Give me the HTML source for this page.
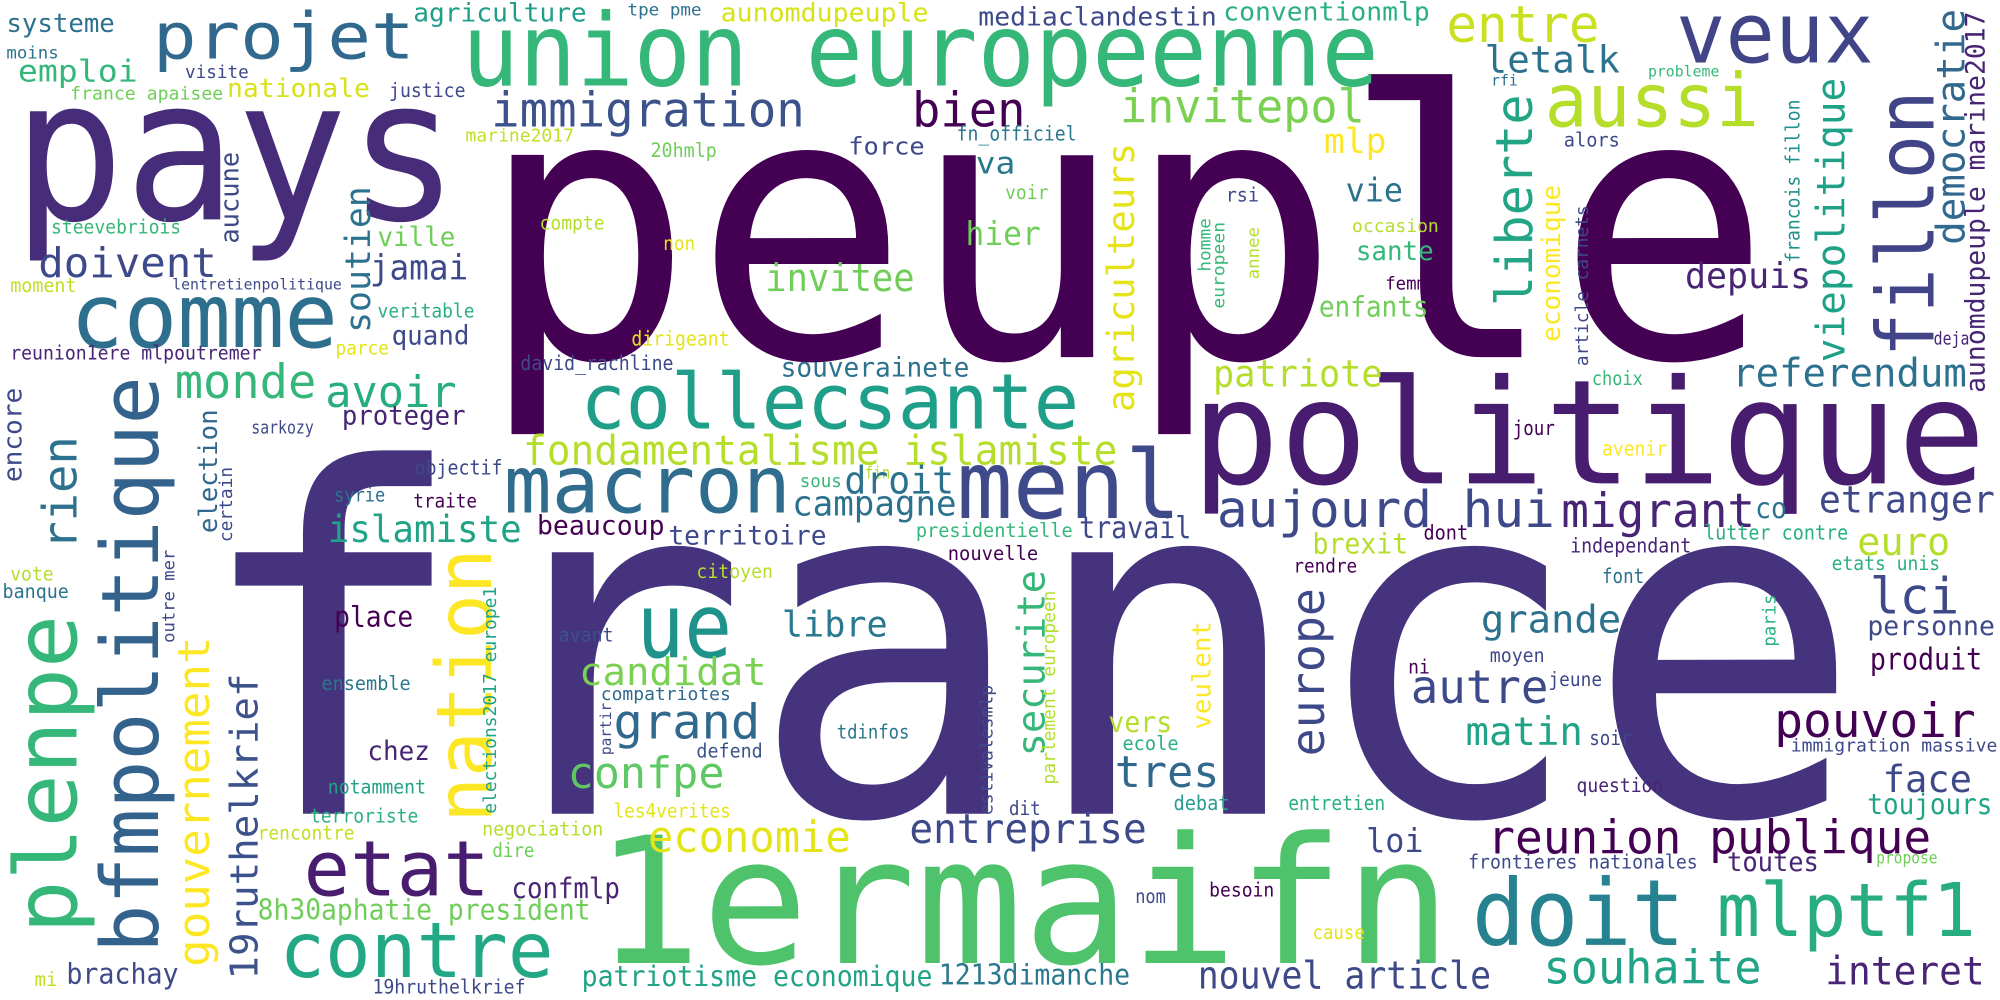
<!DOCTYPE html>
<html><head><meta charset="utf-8"><style>
html,body{margin:0;padding:0;background:#fff;overflow:hidden;}
svg{display:block;}
text{font-family:"DejaVu Sans Mono","Liberation Mono",monospace;}
</style></head><body>
<svg width="2000" height="1000" viewBox="0 0 1568 784" xmlns="http://www.w3.org/2000/svg">
<rect width="1568" height="784" fill="#fff"/>
<text x="150" y="638" font-size="375" textLength="1311" lengthAdjust="spacingAndGlyphs" fill="#46337e">france</text>
<text x="375" y="280" font-size="290" textLength="1014" lengthAdjust="spacingAndGlyphs" fill="#440154">peuple</text>
<text x="10" y="172" font-size="155" textLength="350" lengthAdjust="spacingAndGlyphs" fill="#472c7a">pays</text>
<text x="934" y="379" font-size="114" textLength="623" lengthAdjust="spacingAndGlyphs" fill="#481c6e">politique</text>
<text x="362" y="67" font-size="79" textLength="719" lengthAdjust="spacingAndGlyphs" fill="#35b779">union europeenne</text>
<text x="1314" y="49" font-size="66" textLength="155" lengthAdjust="spacingAndGlyphs" fill="#414487">veux</text>
<text x="120" y="46" font-size="50" textLength="205" lengthAdjust="spacingAndGlyphs" fill="#31688e">projet</text>
<text x="1211" y="99" font-size="58" textLength="168" lengthAdjust="spacingAndGlyphs" fill="#b5de2b">aussi</text>
<text x="55" y="272" font-size="70" textLength="210" lengthAdjust="spacingAndGlyphs" fill="#2e6f8e">comme</text>
<text x="455" y="336" font-size="60" textLength="391" lengthAdjust="spacingAndGlyphs" fill="#1f9e89">collecsante</text>
<text x="395" y="402" font-size="62" textLength="225" lengthAdjust="spacingAndGlyphs" fill="#2f6c8e">macron</text>
<text x="750" y="406" font-size="74" textLength="176" lengthAdjust="spacingAndGlyphs" fill="#3e4a89">menl</text>
<text x="499" y="515" font-size="70" textLength="75" lengthAdjust="spacingAndGlyphs" fill="#20928c">ue</text>
<text x="238" y="702" font-size="60" textLength="146" lengthAdjust="spacingAndGlyphs" fill="#481c6e">etat</text>
<text x="219" y="766" font-size="60" textLength="215" lengthAdjust="spacingAndGlyphs" fill="#22a884">contre</text>
<text x="466" y="755" font-size="138" textLength="672" lengthAdjust="spacingAndGlyphs" fill="#4ec36b">1ermaifn</text>
<text x="1154" y="741" font-size="72" textLength="167" lengthAdjust="spacingAndGlyphs" fill="#26828e">doit</text>
<text x="1346" y="734" font-size="58" textLength="203" lengthAdjust="spacingAndGlyphs" fill="#27ad81">mlptf1</text>
<text x="954" y="413" font-size="40" textLength="265" lengthAdjust="spacingAndGlyphs" fill="#3e4989">aujourd hui</text>
<text x="1224" y="413" font-size="37" textLength="152" lengthAdjust="spacingAndGlyphs" fill="#482475">migrant</text>
<text x="1376" y="406" font-size="22" textLength="25" lengthAdjust="spacingAndGlyphs" fill="#2c728e">co</text>
<text x="1426" y="402" font-size="29" textLength="138" lengthAdjust="spacingAndGlyphs" fill="#3e4989">etranger</text>
<text x="385" y="99" font-size="38" textLength="246" lengthAdjust="spacingAndGlyphs" fill="#3b528b">immigration</text>
<text x="715" y="99" font-size="38" textLength="89" lengthAdjust="spacingAndGlyphs" fill="#440154">bien</text>
<text x="878" y="96" font-size="36" textLength="192" lengthAdjust="spacingAndGlyphs" fill="#7ad151">invitepol</text>
<text x="1134" y="33" font-size="40" textLength="120" lengthAdjust="spacingAndGlyphs" fill="#c8e020">entre</text>
<text x="1164" y="57" font-size="29" textLength="106" lengthAdjust="spacingAndGlyphs" fill="#2c728e">letalk</text>
<text x="30" y="217" font-size="32" textLength="140" lengthAdjust="spacingAndGlyphs" fill="#3e4989">doivent</text>
<text x="14" y="64" font-size="24" textLength="94" lengthAdjust="spacingAndGlyphs" fill="#35b779">emploi</text>
<text x="324" y="17" font-size="20" textLength="136" lengthAdjust="spacingAndGlyphs" fill="#1f9e89">agriculture</text>
<text x="5" y="25" font-size="20" textLength="85" lengthAdjust="spacingAndGlyphs" fill="#2c728e">systeme</text>
<text x="5" y="46" font-size="13" textLength="41" lengthAdjust="spacingAndGlyphs" fill="#2c728e">moins</text>
<text x="55" y="78" font-size="14" textLength="120" lengthAdjust="spacingAndGlyphs" fill="#6ece58">france apaisee</text>
<text x="145" y="61" font-size="14" textLength="50" lengthAdjust="spacingAndGlyphs" fill="#3e4989">visite</text>
<text x="178" y="76" font-size="20" textLength="112" lengthAdjust="spacingAndGlyphs" fill="#d8e219">nationale</text>
<text x="305" y="76" font-size="15" textLength="60" lengthAdjust="spacingAndGlyphs" fill="#3e4989">justice</text>
<text x="565" y="17" font-size="20" textLength="163" lengthAdjust="spacingAndGlyphs" fill="#d8e219">aunomdupeuple</text>
<text x="492" y="12" font-size="13" textLength="58" lengthAdjust="spacingAndGlyphs" fill="#2c728e">tpe pme</text>
<text x="767" y="20" font-size="20" textLength="187" lengthAdjust="spacingAndGlyphs" fill="#3e4989">mediaclandestin</text>
<text x="959" y="16" font-size="20" textLength="162" lengthAdjust="spacingAndGlyphs" fill="#2ab07f">conventionmlp</text>
<text x="365" y="111" font-size="14" textLength="85" lengthAdjust="spacingAndGlyphs" fill="#c2df23">marine2017</text>
<text x="750" y="110" font-size="16" textLength="94" lengthAdjust="spacingAndGlyphs" fill="#2a788e">fn_officiel</text>
<text x="665" y="121" font-size="19" textLength="60" lengthAdjust="spacingAndGlyphs" fill="#3e4989">force</text>
<text x="1038" y="120" font-size="27" textLength="49" lengthAdjust="spacingAndGlyphs" fill="#fde725">mlp</text>
<text x="1169" y="67" font-size="12" textLength="21" lengthAdjust="spacingAndGlyphs" fill="#2c728e">rfi</text>
<text x="510" y="123" font-size="15" textLength="52" lengthAdjust="spacingAndGlyphs" fill="#6ece58">20hmlp</text>
<text x="765" y="136" font-size="24" textLength="31" lengthAdjust="spacingAndGlyphs" fill="#2a788e">va</text>
<text x="1055" y="158" font-size="26" textLength="45" lengthAdjust="spacingAndGlyphs" fill="#2c728e">vie</text>
<text x="757" y="192" font-size="26" textLength="59" lengthAdjust="spacingAndGlyphs" fill="#6ece58">hier</text>
<text x="1321" y="226" font-size="28" textLength="99" lengthAdjust="spacingAndGlyphs" fill="#482475">depuis</text>
<text x="1063" y="204" font-size="21" textLength="61" lengthAdjust="spacingAndGlyphs" fill="#35b779">sante</text>
<text x="1034" y="248" font-size="22" textLength="86" lengthAdjust="spacingAndGlyphs" fill="#6ece58">enfants</text>
<text x="1060" y="182" font-size="14" textLength="68" lengthAdjust="spacingAndGlyphs" fill="#b5de2b">occasion</text>
<text x="961" y="158" font-size="15" textLength="26" lengthAdjust="spacingAndGlyphs" fill="#3e4989">rsi</text>
<text x="788" y="156" font-size="15" textLength="34" lengthAdjust="spacingAndGlyphs" fill="#6ece58">voir</text>
<text x="1086" y="227" font-size="14" textLength="41" lengthAdjust="spacingAndGlyphs" fill="#440154">femme</text>
<text x="1226" y="115" font-size="15" textLength="44" lengthAdjust="spacingAndGlyphs" fill="#3e4989">alors</text>
<text x="1292" y="60" font-size="12" textLength="56" lengthAdjust="spacingAndGlyphs" fill="#35b779">probleme</text>
<text x="1516" y="270" font-size="14" textLength="28" lengthAdjust="spacingAndGlyphs" fill="#482475">deja</text>
<text x="1358" y="303" font-size="31" textLength="184" lengthAdjust="spacingAndGlyphs" fill="#2c728e">referendum</text>
<text x="951" y="303" font-size="29" textLength="133" lengthAdjust="spacingAndGlyphs" fill="#b5de2b">patriote</text>
<text x="1248" y="302" font-size="15" textLength="40" lengthAdjust="spacingAndGlyphs" fill="#35b779">choix</text>
<text x="1186" y="341" font-size="16" textLength="33" lengthAdjust="spacingAndGlyphs" fill="#440154">jour</text>
<text x="1256" y="357" font-size="16" textLength="51" lengthAdjust="spacingAndGlyphs" fill="#fde725">avenir</text>
<text x="40" y="183" font-size="15" textLength="102" lengthAdjust="spacingAndGlyphs" fill="#35b779">steevebriois</text>
<text x="290" y="219" font-size="27" textLength="77" lengthAdjust="spacingAndGlyphs" fill="#3e4989">jamai</text>
<text x="296" y="193" font-size="21" textLength="61" lengthAdjust="spacingAndGlyphs" fill="#6ece58">ville</text>
<text x="307" y="270" font-size="21" textLength="61" lengthAdjust="spacingAndGlyphs" fill="#3e4989">quand</text>
<text x="8" y="229" font-size="15" textLength="52" lengthAdjust="spacingAndGlyphs" fill="#c2df23">moment</text>
<text x="135" y="227" font-size="12" textLength="133" lengthAdjust="spacingAndGlyphs" fill="#3e4989">lentretienpolitique</text>
<text x="296" y="249" font-size="15" textLength="76" lengthAdjust="spacingAndGlyphs" fill="#2ab07f">veritable</text>
<text x="263" y="278" font-size="15" textLength="42" lengthAdjust="spacingAndGlyphs" fill="#e5e419">parce</text>
<text x="8" y="282" font-size="15" textLength="197" lengthAdjust="spacingAndGlyphs" fill="#482475">reunion1ere mlpoutremer</text>
<text x="423" y="180" font-size="15" textLength="51" lengthAdjust="spacingAndGlyphs" fill="#b5de2b">compte</text>
<text x="520" y="196" font-size="15" textLength="25" lengthAdjust="spacingAndGlyphs" fill="#e5e419">non</text>
<text x="600" y="228" font-size="30" textLength="117" lengthAdjust="spacingAndGlyphs" fill="#6ece58">invitee</text>
<text x="495" y="271" font-size="16" textLength="77" lengthAdjust="spacingAndGlyphs" fill="#e5e419">dirigeant</text>
<text x="408" y="290" font-size="16" textLength="120" lengthAdjust="spacingAndGlyphs" fill="#3e4989">david_rachline</text>
<text x="612" y="295" font-size="21" textLength="148" lengthAdjust="spacingAndGlyphs" fill="#2c728e">souverainete</text>
<text x="137" y="312" font-size="37" textLength="111" lengthAdjust="spacingAndGlyphs" fill="#35b779">monde</text>
<text x="255" y="319" font-size="34" textLength="103" lengthAdjust="spacingAndGlyphs" fill="#27ad81">avoir</text>
<text x="268" y="333" font-size="21" textLength="97" lengthAdjust="spacingAndGlyphs" fill="#482475">proteger</text>
<text x="410" y="364" font-size="32" textLength="466" lengthAdjust="spacingAndGlyphs" fill="#b5de2b">fondamentalisme islamiste</text>
<text x="197" y="340" font-size="14" textLength="49" lengthAdjust="spacingAndGlyphs" fill="#3e4989">sarkozy</text>
<text x="325" y="372" font-size="16" textLength="69" lengthAdjust="spacingAndGlyphs" fill="#3e4989">objectif</text>
<text x="262" y="393" font-size="15" textLength="40" lengthAdjust="spacingAndGlyphs" fill="#2c728e">syrie</text>
<text x="678" y="375" font-size="13" textLength="20" lengthAdjust="spacingAndGlyphs" fill="#b5de2b">fin</text>
<text x="627" y="382" font-size="14" textLength="33" lengthAdjust="spacingAndGlyphs" fill="#35b779">sous</text>
<text x="662" y="387" font-size="30" textLength="86" lengthAdjust="spacingAndGlyphs" fill="#2c728e">droit</text>
<text x="257" y="425" font-size="29" textLength="152" lengthAdjust="spacingAndGlyphs" fill="#20a386">islamiste</text>
<text x="421" y="419" font-size="21" textLength="100" lengthAdjust="spacingAndGlyphs" fill="#440154">beaucoup</text>
<text x="524" y="427" font-size="21" textLength="124" lengthAdjust="spacingAndGlyphs" fill="#3e4989">territoire</text>
<text x="621" y="404" font-size="27" textLength="129" lengthAdjust="spacingAndGlyphs" fill="#2c728e">campagne</text>
<text x="324" y="398" font-size="15" textLength="50" lengthAdjust="spacingAndGlyphs" fill="#440154">traite</text>
<text x="718" y="421" font-size="15" textLength="123" lengthAdjust="spacingAndGlyphs" fill="#35b779">presidentielle</text>
<text x="743" y="439" font-size="15" textLength="71" lengthAdjust="spacingAndGlyphs" fill="#440154">nouvelle</text>
<text x="846" y="422" font-size="24" textLength="88" lengthAdjust="spacingAndGlyphs" fill="#3e4989">travail</text>
<text x="8" y="455" font-size="15" textLength="34" lengthAdjust="spacingAndGlyphs" fill="#b5de2b">vote</text>
<text x="2" y="469" font-size="15" textLength="52" lengthAdjust="spacingAndGlyphs" fill="#2c728e">banque</text>
<text x="546" y="453" font-size="15" textLength="60" lengthAdjust="spacingAndGlyphs" fill="#b5de2b">citoyen</text>
<text x="262" y="491" font-size="22" textLength="62" lengthAdjust="spacingAndGlyphs" fill="#440154">place</text>
<text x="613" y="499" font-size="28" textLength="83" lengthAdjust="spacingAndGlyphs" fill="#2a788e">libre</text>
<text x="438" y="503" font-size="15" textLength="43" lengthAdjust="spacingAndGlyphs" fill="#3b528b">avant</text>
<text x="454" y="537" font-size="30" textLength="147" lengthAdjust="spacingAndGlyphs" fill="#7ad151">candidat</text>
<text x="252" y="541" font-size="15" textLength="70" lengthAdjust="spacingAndGlyphs" fill="#2a788e">ensemble</text>
<text x="471" y="549" font-size="14" textLength="102" lengthAdjust="spacingAndGlyphs" fill="#31688e">compatriotes</text>
<text x="481" y="579" font-size="38" textLength="115" lengthAdjust="spacingAndGlyphs" fill="#31688e">grand</text>
<text x="656" y="579" font-size="15" textLength="57" lengthAdjust="spacingAndGlyphs" fill="#2a788e">tdinfos</text>
<text x="546" y="594" font-size="15" textLength="52" lengthAdjust="spacingAndGlyphs" fill="#3b528b">defend</text>
<text x="288" y="596" font-size="21" textLength="49" lengthAdjust="spacingAndGlyphs" fill="#482475">chez</text>
<text x="445" y="618" font-size="34" textLength="123" lengthAdjust="spacingAndGlyphs" fill="#5ec962">confpe</text>
<text x="257" y="622" font-size="15" textLength="77" lengthAdjust="spacingAndGlyphs" fill="#20a386">notamment</text>
<text x="243" y="645" font-size="15" textLength="85" lengthAdjust="spacingAndGlyphs" fill="#2ab07f">terroriste</text>
<text x="481" y="641" font-size="15" textLength="92" lengthAdjust="spacingAndGlyphs" fill="#e5e419">les4verites</text>
<text x="202" y="658" font-size="15" textLength="76" lengthAdjust="spacingAndGlyphs" fill="#c2df23">rencontre</text>
<text x="378" y="655" font-size="15" textLength="95" lengthAdjust="spacingAndGlyphs" fill="#b5de2b">negociation</text>
<text x="386" y="672" font-size="15" textLength="33" lengthAdjust="spacingAndGlyphs" fill="#6ece58">dire</text>
<text x="508" y="668" font-size="34" textLength="159" lengthAdjust="spacingAndGlyphs" fill="#e5e419">economie</text>
<text x="713" y="661" font-size="32" textLength="186" lengthAdjust="spacingAndGlyphs" fill="#3e4989">entreprise</text>
<text x="401" y="704" font-size="22" textLength="85" lengthAdjust="spacingAndGlyphs" fill="#482475">confmlp</text>
<text x="202" y="721" font-size="22" textLength="261" lengthAdjust="spacingAndGlyphs" fill="#6ece58">8h30aphatie president</text>
<text x="456" y="773" font-size="22" textLength="275" lengthAdjust="spacingAndGlyphs" fill="#20a386">patriotisme economique</text>
<text x="736" y="772" font-size="22" textLength="150" lengthAdjust="spacingAndGlyphs" fill="#2a788e">1213dimanche</text>
<text x="52" y="771" font-size="22" textLength="88" lengthAdjust="spacingAndGlyphs" fill="#3e4989">brachay</text>
<text x="27" y="773" font-size="15" textLength="18" lengthAdjust="spacingAndGlyphs" fill="#c2df23">mi</text>
<text x="292" y="779" font-size="15" textLength="120" lengthAdjust="spacingAndGlyphs" fill="#3e4989">19hruthelkrief</text>
<text x="1116" y="423" font-size="16" textLength="35" lengthAdjust="spacingAndGlyphs" fill="#440154">dont</text>
<text x="1029" y="434" font-size="22" textLength="75" lengthAdjust="spacingAndGlyphs" fill="#b5de2b">brexit</text>
<text x="1336" y="423" font-size="16" textLength="113" lengthAdjust="spacingAndGlyphs" fill="#2ab07f">lutter contre</text>
<text x="1231" y="433" font-size="16" textLength="95" lengthAdjust="spacingAndGlyphs" fill="#482475">independant</text>
<text x="1456" y="435" font-size="30" textLength="73" lengthAdjust="spacingAndGlyphs" fill="#b5de2b">euro</text>
<text x="1014" y="449" font-size="15" textLength="50" lengthAdjust="spacingAndGlyphs" fill="#440154">rendre</text>
<text x="1436" y="447" font-size="15" textLength="85" lengthAdjust="spacingAndGlyphs" fill="#2ab07f">etats unis</text>
<text x="1256" y="457" font-size="16" textLength="33" lengthAdjust="spacingAndGlyphs" fill="#2c728e">font</text>
<text x="1161" y="496" font-size="30" textLength="110" lengthAdjust="spacingAndGlyphs" fill="#2c728e">grande</text>
<text x="1466" y="481" font-size="39" textLength="70" lengthAdjust="spacingAndGlyphs" fill="#3e4989">lci</text>
<text x="1464" y="498" font-size="21" textLength="100" lengthAdjust="spacingAndGlyphs" fill="#3e4989">personne</text>
<text x="1168" y="519" font-size="15" textLength="43" lengthAdjust="spacingAndGlyphs" fill="#3e4989">moyen</text>
<text x="1466" y="525" font-size="24" textLength="88" lengthAdjust="spacingAndGlyphs" fill="#440154">produit</text>
<text x="1104" y="528" font-size="15" textLength="17" lengthAdjust="spacingAndGlyphs" fill="#440154">ni</text>
<text x="1106" y="551" font-size="36" textLength="108" lengthAdjust="spacingAndGlyphs" fill="#3e4989">autre</text>
<text x="1214" y="538" font-size="15" textLength="42" lengthAdjust="spacingAndGlyphs" fill="#3e4989">jeune</text>
<text x="869" y="574" font-size="22" textLength="50" lengthAdjust="spacingAndGlyphs" fill="#b5de2b">vers</text>
<text x="1391" y="578" font-size="37" textLength="158" lengthAdjust="spacingAndGlyphs" fill="#440154">pouvoir</text>
<text x="1149" y="584" font-size="31" textLength="92" lengthAdjust="spacingAndGlyphs" fill="#20a386">matin</text>
<text x="1246" y="584" font-size="16" textLength="33" lengthAdjust="spacingAndGlyphs" fill="#3e4989">soir</text>
<text x="1404" y="589" font-size="14" textLength="162" lengthAdjust="spacingAndGlyphs" fill="#3e4989">immigration massive</text>
<text x="880" y="588" font-size="15" textLength="44" lengthAdjust="spacingAndGlyphs" fill="#2ab07f">ecole</text>
<text x="874" y="617" font-size="34" textLength="82" lengthAdjust="spacingAndGlyphs" fill="#31688e">tres</text>
<text x="1476" y="621" font-size="29" textLength="70" lengthAdjust="spacingAndGlyphs" fill="#3e4989">face</text>
<text x="1236" y="621" font-size="15" textLength="68" lengthAdjust="spacingAndGlyphs" fill="#482475">question</text>
<text x="791" y="639" font-size="15" textLength="25" lengthAdjust="spacingAndGlyphs" fill="#3e4989">dit</text>
<text x="920" y="635" font-size="16" textLength="44" lengthAdjust="spacingAndGlyphs" fill="#2a9d8f">debat</text>
<text x="1010" y="635" font-size="16" textLength="76" lengthAdjust="spacingAndGlyphs" fill="#2ab07f">entretien</text>
<text x="1464" y="638" font-size="22" textLength="98" lengthAdjust="spacingAndGlyphs" fill="#20a386">toujours</text>
<text x="1071" y="668" font-size="26" textLength="45" lengthAdjust="spacingAndGlyphs" fill="#3e4989">loi</text>
<text x="1166" y="669" font-size="36" textLength="348" lengthAdjust="spacingAndGlyphs" fill="#440154">reunion publique</text>
<text x="1151" y="681" font-size="15" textLength="180" lengthAdjust="spacingAndGlyphs" fill="#3e4989">frontieres nationales</text>
<text x="1354" y="683" font-size="21" textLength="72" lengthAdjust="spacingAndGlyphs" fill="#482475">toutes</text>
<text x="1471" y="677" font-size="13" textLength="48" lengthAdjust="spacingAndGlyphs" fill="#6ece58">propose</text>
<text x="948" y="703" font-size="15" textLength="51" lengthAdjust="spacingAndGlyphs" fill="#440154">besoin</text>
<text x="890" y="708" font-size="15" textLength="24" lengthAdjust="spacingAndGlyphs" fill="#3e4989">nom</text>
<text x="1029" y="736" font-size="15" textLength="41" lengthAdjust="spacingAndGlyphs" fill="#e5e419">cause</text>
<text x="1210" y="771" font-size="36" textLength="171" lengthAdjust="spacingAndGlyphs" fill="#20a386">souhaite</text>
<text x="1431" y="772" font-size="31" textLength="125" lengthAdjust="spacingAndGlyphs" fill="#482475">interet</text>
<text x="939" y="775" font-size="30" textLength="230" lengthAdjust="spacingAndGlyphs" fill="#3e4989">nouvel article</text>
<!-- vertical words (baseline x, bottom y) -->
<text transform="translate(1516,280) rotate(-90)" font-size="62" textLength="209" lengthAdjust="spacingAndGlyphs" fill="#414487">fillon</text>
<text transform="translate(1540,192) rotate(-90)" font-size="31" textLength="185" lengthAdjust="spacingAndGlyphs" fill="#31688e">democratie</text>
<text transform="translate(1556,308) rotate(-90)" font-size="21" textLength="299" lengthAdjust="spacingAndGlyphs" fill="#482475">aunomdupeuple marine2017</text>
<text transform="translate(1446,284) rotate(-90)" font-size="31" textLength="223" lengthAdjust="spacingAndGlyphs" fill="#1fa188">viepolitique</text>
<text transform="translate(1411,206) rotate(-90)" font-size="15" textLength="128" lengthAdjust="spacingAndGlyphs" fill="#21918c">francois fillon</text>
<text transform="translate(1245,287) rotate(-90)" font-size="14" textLength="126" lengthAdjust="spacingAndGlyphs" fill="#3e4989">article carnets</text>
<text transform="translate(1223,268) rotate(-90)" font-size="20" textLength="123" lengthAdjust="spacingAndGlyphs" fill="#fde725">economique</text>
<text transform="translate(1201,240) rotate(-90)" font-size="40" textLength="166" lengthAdjust="spacingAndGlyphs" fill="#21a585">liberte</text>
<text transform="translate(889,323) rotate(-90)" font-size="29" textLength="211" lengthAdjust="spacingAndGlyphs" fill="#e5e419">agriculteurs</text>
<text transform="translate(949,213) rotate(-90)" font-size="13" textLength="42" lengthAdjust="spacingAndGlyphs" fill="#35b779">homme</text>
<text transform="translate(960,242) rotate(-90)" font-size="13" textLength="68" lengthAdjust="spacingAndGlyphs" fill="#35b779">europeen</text>
<text transform="translate(987,219) rotate(-90)" font-size="13" textLength="41" lengthAdjust="spacingAndGlyphs" fill="#b5de2b">annee</text>
<text transform="translate(290,261) rotate(-90)" font-size="27" textLength="115" lengthAdjust="spacingAndGlyphs" fill="#2c728e">soutien</text>
<text transform="translate(187,191) rotate(-90)" font-size="20" textLength="72" lengthAdjust="spacingAndGlyphs" fill="#3e4989">aucune</text>
<text transform="translate(17,378) rotate(-90)" font-size="20" textLength="74" lengthAdjust="spacingAndGlyphs" fill="#3e4989">encore</text>
<text transform="translate(60,431) rotate(-90)" font-size="37" textLength="89" lengthAdjust="spacingAndGlyphs" fill="#2c728e">rien</text>
<text transform="translate(170,418) rotate(-90)" font-size="20" textLength="97" lengthAdjust="spacingAndGlyphs" fill="#31688e">election</text>
<text transform="translate(182,425) rotate(-90)" font-size="14" textLength="59" lengthAdjust="spacingAndGlyphs" fill="#3e4989">certain</text>
<text transform="translate(137,504) rotate(-90)" font-size="13" textLength="73" lengthAdjust="spacingAndGlyphs" fill="#3e4989">outre mer</text>
<text transform="translate(60,732) rotate(-90)" font-size="68" textLength="250" lengthAdjust="spacingAndGlyphs" fill="#35b779">plenpe</text>
<text transform="translate(124,747) rotate(-90)" font-size="62" textLength="452" lengthAdjust="spacingAndGlyphs" fill="#33638d">bfmpolitique</text>
<text transform="translate(164,758) rotate(-90)" font-size="34" textLength="259" lengthAdjust="spacingAndGlyphs" fill="#fde725">gouvernement</text>
<text transform="translate(202,768) rotate(-90)" font-size="30" textLength="240" lengthAdjust="spacingAndGlyphs" fill="#3b528b">19ruthelkrief</text>
<text transform="translate(385,645) rotate(-90)" font-size="60" textLength="215" lengthAdjust="spacingAndGlyphs" fill="#fde725">nation</text>
<text transform="translate(389,638) rotate(-90)" font-size="14" textLength="178" lengthAdjust="spacingAndGlyphs" fill="#20a386">elections2017 europe1</text>
<text transform="translate(479,592) rotate(-90)" font-size="12" textLength="41" lengthAdjust="spacingAndGlyphs" fill="#3e4989">partir</text>
<text transform="translate(778,639) rotate(-90)" font-size="14" textLength="102" lengthAdjust="spacingAndGlyphs" fill="#3e4989">estivalesmlp</text>
<text transform="translate(819,593) rotate(-90)" font-size="30" textLength="146" lengthAdjust="spacingAndGlyphs" fill="#35b779">securite</text>
<text transform="translate(827,615) rotate(-90)" font-size="14" textLength="152" lengthAdjust="spacingAndGlyphs" fill="#b5de2b">parlement europeen</text>
<text transform="translate(949,572) rotate(-90)" font-size="20" textLength="85" lengthAdjust="spacingAndGlyphs" fill="#fde725">veulent</text>
<text transform="translate(1038,593) rotate(-90)" font-size="36" textLength="132" lengthAdjust="spacingAndGlyphs" fill="#3e4989">europe</text>
<text transform="translate(1392,507) rotate(-90)" font-size="14" textLength="41" lengthAdjust="spacingAndGlyphs" fill="#2ab07f">paris</text>
</svg>
</body></html>
